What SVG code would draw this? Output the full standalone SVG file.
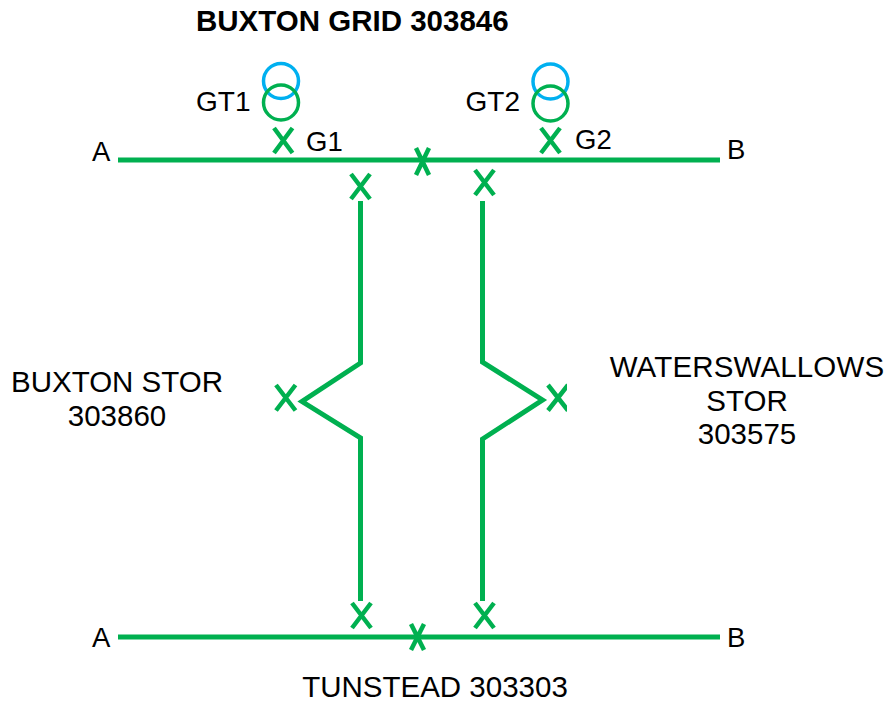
<svg xmlns="http://www.w3.org/2000/svg" width="885" height="701" viewBox="0 0 885 701">
<defs><clipPath id="c"><rect x="540" y="370" width="27" height="50"/></clipPath></defs>
<style>
text{font-family:"Liberation Sans",Arial,sans-serif;font-size:29.500px;fill:#000}
.s{font-size:27.500px}
.t{font-size:28px}
.w{letter-spacing:.15px}
.b{font-weight:bold}
.m{text-anchor:middle}
.l,.x{fill:none;stroke:#00b050}
.l{stroke-width:5}
.x{stroke-width:4.500}
.o{fill:none;stroke-width:3.500}
</style>
<rect width="885" height="701" fill="#fff"/>
<g id="connectors">
<path class="l" d="M118 160H720"/>
<path class="l" d="M118 637H720"/>
<path class="l" d="M360.500 201V363L302 401.500L360.500 438V601"/>
<path class="l" d="M482.500 201V362L542.500 400L482.500 439V601"/>
</g>
<g id="title"><text class="b" x="196" y="31">BUXTON GRID 303846</text></g>
<g id="GT1"><circle class="o" cx="281" cy="81" r="17.500" stroke="#00b0f0"/><circle class="o" cx="281" cy="102.500" r="17.500" stroke="#00b050"/><text class="t" x="196" y="111">GT1</text></g>
<g id="GT2"><circle class="o" cx="550.500" cy="81.500" r="17.500" stroke="#00b0f0"/><circle class="o" cx="550.500" cy="103.500" r="17.500" stroke="#00b050"/><text class="t" x="465.500" y="111">GT2</text></g>
<g id="G1"><path class="x" d="M274 128L292.500 153M292.500 128L274 153"/><text class="s" x="306" y="151">G1</text></g>
<g id="G2"><path class="x" d="M541 128L560 153M560 128L541 153"/><text class="s" x="575" y="149">G2</text></g>
<g id="bus-top-coupler"><path class="x" d="M416 148L429 175M429 148L416 175"/></g>
<g id="bus-bottom-coupler"><path class="x" d="M411 624L424 650M424 624L411 650"/></g>
<g id="switch-top-left"><path class="x" d="M351 174L370 199M370 174L351 199"/></g>
<g id="switch-top-right"><path class="x" d="M475 170L494 195M494 170L475 195"/></g>
<g id="switch-mid-left"><path class="x" d="M276 385L295.500 410.500M295.500 385L276 410.500"/></g>
<g id="switch-mid-right"><path class="x" clip-path="url(#c)" d="M548 385L568 410.500M568 385L548 410.500"/></g>
<g id="switch-bottom-left"><path class="x" d="M352 603L371 628M371 603L352 628"/></g>
<g id="switch-bottom-right"><path class="x" d="M475 603L494 628M494 603L475 628"/></g>
<g id="A-top"><text class="s" x="92" y="161">A</text></g>
<g id="B-top"><text class="s" x="727" y="159">B</text></g>
<g id="A-bottom"><text class="s" x="92" y="647">A</text></g>
<g id="B-bottom"><text class="s" x="727" y="647">B</text></g>
<g id="buxton-stor"><text class="m" x="117" y="392">BUXTON STOR</text><text class="m" x="117" y="426">303860</text></g>
<g id="waterswallows-stor"><text class="m w" x="747" y="377">WATERSWALLOWS</text><text class="m" x="747" y="410.500">STOR</text><text class="m" x="747" y="444">303575</text></g>
<g id="tunstead"><text class="m" x="435" y="697">TUNSTEAD 303303</text></g>
</svg>
